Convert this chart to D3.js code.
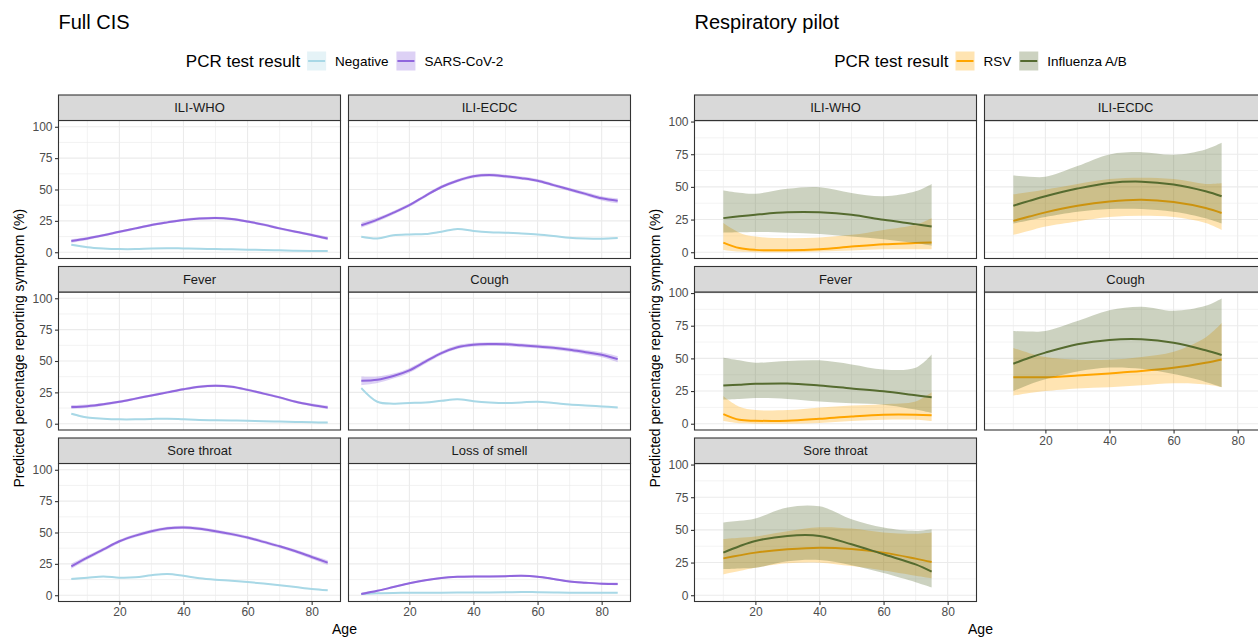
<!DOCTYPE html>
<html>
<head>
<meta charset="utf-8">
<script src="https://cdn.jsdelivr.net/npm/d3@7"></script>
<style>
    body { margin: 0; background: #fff; }
    svg text { font-family: Arial, 'Liberation Sans', sans-serif; }
</style>
</head>
<body>
<div id="chart"></div>
<script>
const WIDTH = 1258;
const HEIGHT = 638;
const TOP = 95;
const STRIP_H = 25.5;
const PANEL_H = 138;
const PANEL_W = 282;
const ROW_GAP = 8;
const COL_GAP = 8;

// Axis settings
const X_DOMAIN = [1, 89];
const X_TICKS = [20, 40, 60, 80];
const X_MINOR = [10, 30, 50, 70];
const Y_TICKS = [0, 25, 50, 75, 100];
const Y_MINOR = [12.5, 37.5, 62.5, 87.5];

// ---- Full CIS (age 5..85) ----
const CIS_AGES = [5, 10, 15, 20, 25, 30, 35, 40, 45, 50, 55, 60, 65, 70, 75, 80, 85];
const CIS_GROUPS = ['Negative', 'SARS-CoV-2'];

const cisWhoNeg = [6, 4, 3, 2.5, 2.5, 3, 3.2, 3, 2.8, 2.5, 2.3, 2, 1.8, 1.5, 1.2, 1, 1];
const cisWhoSars = [9, 11, 13.5, 16.3, 19, 21.7, 23.8, 25.7, 26.8, 27.3, 26.5, 24.5, 22, 19, 16.3, 13.8, 11];
const cisEcdcNeg = [12.4, 11, 13.5, 14.2, 14.5, 16.4, 18.5, 17, 16, 15.6, 15, 14.2, 13, 11.6, 11, 10.8, 11.3];
const cisEcdcSars = [21.5, 26, 31.5, 37.5, 45, 52, 57, 60.5, 61.5, 60.5, 59, 57, 53.5, 50, 46.5, 43, 41];
const cisFeverNeg = [8, 5, 4, 3.5, 3.5, 3.8, 4, 3.5, 3, 2.8, 2.6, 2.4, 2, 1.7, 1.4, 1.1, 1];
const cisFeverSars = [13.3, 14, 15.5, 17.5, 20, 22.5, 25, 27.5, 29.5, 30.2, 29.5, 27, 24, 21, 17.5, 15, 13];
const cisCoughNeg = [28.4, 17.5, 16, 16.5, 17, 18.3, 19.5, 18, 17, 16.5, 17, 17.5, 16.5, 15.3, 14.5, 13.8, 13];
const cisCoughSars = [34.2, 35, 38, 42.5, 49.5, 56.3, 61, 63, 63.5, 63.4, 62.5, 61.6, 60.5, 59, 57, 55, 51.5];
const cisSoreNeg = [13, 14, 15, 14, 14.3, 16, 17, 15.5, 13.5, 12.3, 11.5, 10.5, 9.3, 8, 6.5, 5, 4];
const cisSoreSars = [23, 30, 36.5, 43, 47.5, 51, 53.3, 54, 53, 51, 48.7, 46, 42.5, 39, 35, 30.5, 26];
const cisSmellNeg = [1, 1.5, 1.8, 2, 2, 2, 2.2, 2.2, 2.2, 2.3, 2.6, 2.4, 2.2, 2, 2, 2, 2];
const cisSmellSars = [1, 3.5, 6.5, 9.5, 12, 13.8, 14.7, 15, 15, 15.2, 15.5, 14.8, 13, 11, 10, 9.2, 9];

// half-widths of the confidence bands
const cisNegCi = [0.8, 0.5, 0.4, 0.4, 0.4, 0.4, 0.4, 0.4, 0.4, 0.4, 0.4, 0.4, 0.4, 0.4, 0.4, 0.5, 0.6];
const cisWhoSarsCi = [1.5, 1.2, 1, 1, 1, 1, 1, 1, 1, 1, 1, 1, 1, 1, 1, 1.1, 1.4];
const cisEcdcSarsCi = [2, 1.6, 1.4, 1.3, 1.3, 1.3, 1.3, 1.3, 1.3, 1.3, 1.3, 1.3, 1.3, 1.4, 1.5, 1.7, 2];
const cisFeverSarsCi = [1.6, 1.3, 1.1, 1, 1, 1, 1, 1, 1, 1, 1, 1, 1, 1, 1, 1.1, 1.4];
const cisCoughSarsCi = [3.5, 2.6, 2, 1.8, 1.6, 1.5, 1.5, 1.5, 1.5, 1.5, 1.5, 1.5, 1.5, 1.6, 1.8, 2, 2.4];
const cisSoreSarsCi = [2, 1.6, 1.4, 1.3, 1.3, 1.3, 1.3, 1.3, 1.3, 1.3, 1.3, 1.3, 1.3, 1.3, 1.4, 1.6, 1.9];
const cisSmellSarsCi = [1, 0.8, 0.8, 0.8, 0.8, 0.8, 0.8, 0.8, 0.8, 0.8, 0.8, 0.8, 0.8, 0.8, 0.8, 0.9, 1.1];

// ---- Respiratory pilot (age 10..75) ----
const PILOT_AGES = [10, 15, 20, 30, 40, 50, 60, 70, 75];
const PILOT_GROUPS = ['RSV', 'Influenza A/B'];

const pilotWhoFlu = [26.1, 27.5, 28.7, 30.5, 30.5, 28.7, 24.8, 21.5, 19.7];
const pilotWhoFluLo = [15, 15.2, 15.5, 15, 14, 12, 10, 7, 5];
const pilotWhoFluHi = [47.2, 45.5, 44.8, 48.5, 49.7, 45.4, 42.8, 46.6, 52.3];
const pilotWhoRsv = [7.4, 3.2, 1.8, 1.5, 2.3, 4.3, 6.1, 7, 7.5];
const pilotWhoRsvLo = [1.8, 0.5, 0, 0, 0.5, 1.3, 2.3, 2.3, 2.3];
const pilotWhoRsvHi = [22.3, 15, 12, 10.7, 11.3, 13.3, 17.1, 21, 26];

const pilotEcdcFlu = [35.6, 39.3, 42.8, 48.7, 53, 54, 51.8, 46.6, 42.8];
const pilotEcdcFluLo = [22, 24.5, 27, 31, 33, 33, 31, 26, 22];
const pilotEcdcFluHi = [58.7, 57.8, 57.7, 65.9, 74.8, 76.6, 74.6, 78.7, 83.8];
const pilotEcdcRsv = [24, 27.3, 30.5, 35.6, 38.9, 40.2, 38.4, 33.8, 30];
const pilotEcdcRsvLo = [13.3, 16.5, 19.7, 23.6, 26.9, 27.9, 26.9, 22.3, 17];
const pilotEcdcRsvHi = [44.3, 46, 48, 52.3, 56, 57, 56, 52.3, 52.8];

const pilotFeverFlu = [29.2, 29.9, 30.5, 30.8, 29.2, 27, 24.9, 21.8, 20.3];
const pilotFeverFluLo = [18.5, 19, 19.7, 19, 17, 15.6, 14.6, 10.8, 8.2];
const pilotFeverFluHi = [50.5, 48.5, 46.7, 48, 48.5, 45.4, 41.5, 42.8, 53];
const pilotFeverRsv = [7.4, 3, 2.3, 2.3, 3.8, 5.6, 6.9, 6.9, 6.4];
const pilotFeverRsvLo = [2, 0.3, 0, 0, 0.5, 2, 3, 3, 2];
const pilotFeverRsvHi = [21, 13, 10.5, 10.5, 12.5, 14, 15, 17, 24];

const pilotCoughFlu = [45.9, 50.5, 54.4, 60.8, 64.1, 64.6, 62, 56.2, 52.6];
const pilotCoughFluLo = [25, 30, 34, 40, 43, 42, 38, 32, 28];
const pilotCoughFluHi = [71, 70.5, 71, 78.7, 86.9, 89.5, 86.4, 90.2, 95.9];
const pilotCoughRsv = [35.6, 35.6, 35.6, 36.9, 38.5, 40.3, 42.8, 46.7, 49.2];
const pilotCoughRsvLo = [21.5, 23.5, 25, 27, 28, 29.5, 31, 30, 28];
const pilotCoughRsvHi = [58, 54, 51, 49, 49, 51, 55, 66, 77];

const pilotSoreFlu = [32.6, 37.5, 41.5, 45.4, 45.4, 39, 31.3, 23.6, 18];
const pilotSoreFluLo = [20, 20.5, 21, 26, 27, 23, 17, 10, 6];
const pilotSoreFluHi = [55.7, 57, 58.8, 67.2, 68, 58.2, 51.8, 49.2, 50.5];
const pilotSoreRsv = [28.2, 30.5, 32.6, 35.1, 36.4, 35.4, 32.6, 28, 25.4];
const pilotSoreRsvLo = [15.9, 18.5, 21, 24.4, 24.9, 22.3, 19, 15, 13];
const pilotSoreRsvHi = [43, 44, 45, 49, 52, 51, 48, 47, 48];

const COLORS = {
    'Negative': '#a8d8e6',
    'SARS-CoV-2': '#9066dd',
    'RSV': '#ffa500',
    'Influenza A/B': '#556b2f',
};

// Build the rows for each series
function cisRows(fit, ci) {
    return CIS_AGES.map((age, i) => ({ age, fit: fit[i], lo: fit[i] - ci[i], hi: fit[i] + ci[i] }));
}
function pilotRows(fit, lo, hi) {
    return PILOT_AGES.map((age, i) => ({ age, fit: fit[i], lo: lo[i], hi: hi[i] }));
}

const cisPanels = [
    { name: 'ILI-WHO', col: 0, row: 0, series: [cisRows(cisWhoNeg, cisNegCi), cisRows(cisWhoSars, cisWhoSarsCi)] },
    { name: 'ILI-ECDC', col: 1, row: 0, series: [cisRows(cisEcdcNeg, cisNegCi), cisRows(cisEcdcSars, cisEcdcSarsCi)] },
    { name: 'Fever', col: 0, row: 1, series: [cisRows(cisFeverNeg, cisNegCi), cisRows(cisFeverSars, cisFeverSarsCi)] },
    { name: 'Cough', col: 1, row: 1, series: [cisRows(cisCoughNeg, cisNegCi), cisRows(cisCoughSars, cisCoughSarsCi)] },
    { name: 'Sore throat', col: 0, row: 2, xAxis: true, series: [cisRows(cisSoreNeg, cisNegCi), cisRows(cisSoreSars, cisSoreSarsCi)] },
    { name: 'Loss of smell', col: 1, row: 2, xAxis: true, series: [cisRows(cisSmellNeg, cisNegCi), cisRows(cisSmellSars, cisSmellSarsCi)] },
];

const pilotPanels = [
    { name: 'ILI-WHO', col: 0, row: 0, series: [pilotRows(pilotWhoRsv, pilotWhoRsvLo, pilotWhoRsvHi), pilotRows(pilotWhoFlu, pilotWhoFluLo, pilotWhoFluHi)] },
    { name: 'ILI-ECDC', col: 1, row: 0, series: [pilotRows(pilotEcdcRsv, pilotEcdcRsvLo, pilotEcdcRsvHi), pilotRows(pilotEcdcFlu, pilotEcdcFluLo, pilotEcdcFluHi)] },
    { name: 'Fever', col: 0, row: 1, series: [pilotRows(pilotFeverRsv, pilotFeverRsvLo, pilotFeverRsvHi), pilotRows(pilotFeverFlu, pilotFeverFluLo, pilotFeverFluHi)] },
    { name: 'Cough', col: 1, row: 1, xAxis: true, series: [pilotRows(pilotCoughRsv, pilotCoughRsvLo, pilotCoughRsvHi), pilotRows(pilotCoughFlu, pilotCoughFluLo, pilotCoughFluHi)] },
    { name: 'Sore throat', col: 0, row: 2, xAxis: true, series: [pilotRows(pilotSoreRsv, pilotSoreRsvLo, pilotSoreRsvHi), pilotRows(pilotSoreFlu, pilotSoreFluLo, pilotSoreFluHi)] },
];

const svg = d3.select('#chart')
    .append('svg')
    .attr('width', WIDTH)
    .attr('height', HEIGHT);

drawPlot({ key: 'cis', title: 'Full CIS', left: 58.5, yDomain: [-5, 105], groups: CIS_GROUPS, panels: cisPanels });
drawPlot({ key: 'pilot', title: 'Respiratory pilot', left: 694.5, yDomain: [-4.8, 100.8], groups: PILOT_GROUPS, panels: pilotPanels });

function drawPlot(cfg) {
    const x = d3.scaleLinear().domain(X_DOMAIN).range([0, PANEL_W]);
    const y = d3.scaleLinear().domain(cfg.yDomain).range([PANEL_H, 0]);
    const curve = d3.curveCatmullRom.alpha(0.5);
    const area = d3.area()
        .x(d => x(d.age))
        .y0(d => y(d.lo))
        .y1(d => y(d.hi))
        .curve(curve);
    const line = d3.line()
        .x(d => x(d.age))
        .y(d => y(d.fit))
        .curve(curve);

    const plotW = 2 * PANEL_W + COL_GAP;

    // Title
    svg.append('text')
        .attr('x', cfg.left)
        .attr('y', 29)
        .style('font-size', '20px')
        .style('fill', '#000')
        .text(cfg.title);

    drawLegend(cfg, cfg.left + plotW / 2);

    cfg.panels.forEach((p, i) => {
        const px = cfg.left + p.col * (PANEL_W + COL_GAP);
        const sy = TOP + p.row * (STRIP_H + PANEL_H + ROW_GAP);
        const pg = svg.append('g').attr('transform', `translate(${px},${sy + STRIP_H})`);
        const clipId = `clip-${cfg.key}-${i}`;

        pg.append('clipPath').attr('id', clipId)
            .append('rect').attr('width', PANEL_W).attr('height', PANEL_H);

        pg.append('rect')
            .attr('width', PANEL_W)
            .attr('height', PANEL_H)
            .style('fill', '#fff');

        // grid lines
        const grid = pg.append('g');
        grid.selectAll('line.ymin').data(Y_MINOR).enter().append('line')
            .attr('x1', 0).attr('x2', PANEL_W)
            .attr('y1', d => y(d)).attr('y2', d => y(d))
            .style('stroke', '#ebebeb').style('stroke-width', 0.6);
        grid.selectAll('line.xmin').data(X_MINOR).enter().append('line')
            .attr('y1', 0).attr('y2', PANEL_H)
            .attr('x1', d => x(d)).attr('x2', d => x(d))
            .style('stroke', '#ebebeb').style('stroke-width', 0.6);
        grid.selectAll('line.ymaj').data(Y_TICKS).enter().append('line')
            .attr('x1', 0).attr('x2', PANEL_W)
            .attr('y1', d => y(d)).attr('y2', d => y(d))
            .style('stroke', '#ebebeb').style('stroke-width', 1.1);
        grid.selectAll('line.xmaj').data(X_TICKS).enter().append('line')
            .attr('y1', 0).attr('y2', PANEL_H)
            .attr('x1', d => x(d)).attr('x2', d => x(d))
            .style('stroke', '#ebebeb').style('stroke-width', 1.1);

        // ribbon then line for each group
        const marks = pg.append('g').attr('clip-path', `url(#${clipId})`);
        p.series.forEach((rows, gi) => {
            const color = COLORS[cfg.groups[gi]];
            marks.append('path')
                .datum(rows)
                .attr('d', area)
                .style('fill', color)
                .style('fill-opacity', 0.3)
                .style('stroke', 'none');
            marks.append('path')
                .datum(rows)
                .attr('d', line)
                .style('fill', 'none')
                .style('stroke', color)
                .style('stroke-width', 2);
        });

        // panel border
        pg.append('rect')
            .attr('width', PANEL_W)
            .attr('height', PANEL_H)
            .style('fill', 'none')
            .style('stroke', '#333')
            .style('stroke-width', 1.1);

        // strip
        const strip = svg.append('g').attr('transform', `translate(${px},${sy})`);
        strip.append('rect')
            .attr('width', PANEL_W)
            .attr('height', STRIP_H)
            .style('fill', '#d9d9d9')
            .style('stroke', '#333')
            .style('stroke-width', 1.1);
        strip.append('text')
            .attr('x', PANEL_W / 2)
            .attr('y', STRIP_H / 2 + 4.5)
            .attr('text-anchor', 'middle')
            .style('font-size', '13px')
            .style('fill', '#1a1a1a')
            .text(p.name);

        // axes
        if (p.col === 0) {
            const ya = pg.append('g')
                .call(d3.axisLeft(y).tickValues(Y_TICKS).tickSize(3.5).tickPadding(2.5));
            styleAxis(ya);
        }
        if (p.xAxis) {
            const xa = pg.append('g')
                .attr('transform', `translate(0,${PANEL_H})`)
                .call(d3.axisBottom(x).tickValues(X_TICKS).tickSize(3.5).tickPadding(2.5));
            styleAxis(xa);
        }
    });

    // axis titles
    svg.append('text')
        .attr('transform', `translate(${cfg.left - 35},${TOP + (3 * (STRIP_H + PANEL_H) + 2 * ROW_GAP) / 2}) rotate(-90)`)
        .attr('text-anchor', 'middle')
        .style('font-size', '14px')
        .style('fill', '#000')
        .text('Predicted percentage reporting symptom (%)');

    svg.append('text')
        .attr('x', cfg.left + plotW / 2)
        .attr('y', 634)
        .attr('text-anchor', 'middle')
        .style('font-size', '14px')
        .style('fill', '#000')
        .text('Age');
}

function styleAxis(axis) {
    axis.select('.domain').remove();
    axis.selectAll('.tick line').style('stroke', '#333').style('stroke-width', 1.1);
    axis.selectAll('.tick text')
        .style('font-size', '12px')
        .style('fill', '#4d4d4d')
        .style('font-family', "Arial, 'Liberation Sans', sans-serif");
}

function drawLegend(cfg, centerX) {
    const KEY = 19;
    const legend = svg.append('g');
    const baseline = 67;

    const title = legend.append('text')
        .attr('y', baseline)
        .style('font-size', '17px')
        .style('fill', '#000')
        .text('PCR test result');
    let cursor = title.node().getComputedTextLength() + 7;

    cfg.groups.forEach(grp => {
        const key = legend.append('g').attr('transform', `translate(${cursor},${baseline - 6 - KEY / 2})`);
        key.append('rect')
            .attr('width', KEY)
            .attr('height', KEY)
            .style('fill', COLORS[grp])
            .style('fill-opacity', 0.3);
        key.append('line')
            .attr('x1', 1).attr('x2', KEY - 1)
            .attr('y1', KEY / 2).attr('y2', KEY / 2)
            .style('stroke', COLORS[grp])
            .style('stroke-width', 2);
        cursor += KEY + 9;
        const label = legend.append('text')
            .attr('x', cursor)
            .attr('y', baseline - 1)
            .style('font-size', '13.5px')
            .style('fill', '#000')
            .text(grp);
        cursor += label.node().getComputedTextLength() + 8;
    });
    cursor -= 8;
    legend.attr('transform', `translate(${centerX - cursor / 2},0)`);
}
</script>
</body>
</html>
